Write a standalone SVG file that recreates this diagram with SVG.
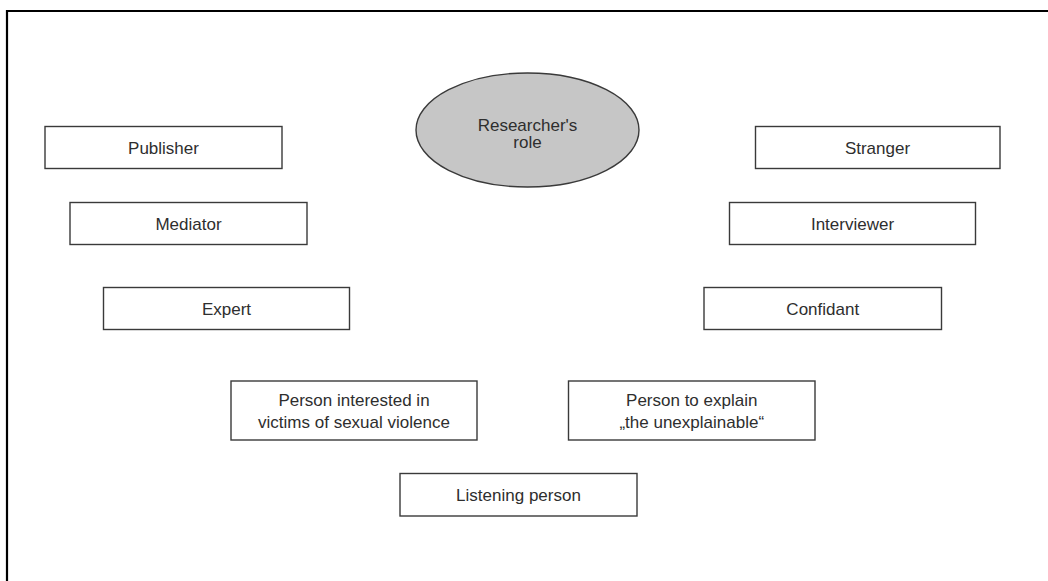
<svg xmlns="http://www.w3.org/2000/svg" width="1048" height="581" viewBox="0 0 1048 581">
<style>
.box{fill:#fff;stroke:#3a3a3a;stroke-width:1.4}
.ell{fill:#c6c6c6;stroke:#3a3a3a;stroke-width:1.4}
text{font-family:"Liberation Sans",Arial,sans-serif;font-size:17px;fill:#2e2e2e;text-anchor:middle}
</style>
<rect width="1048" height="581" fill="#fff"/>
<path d="M7,581 V11 H1048" fill="none" stroke="#000" stroke-width="2.2"/>
<g id="connectors"></g>
<g id="researchers-role">
<ellipse class="ell" cx="527.5" cy="130" rx="111.5" ry="57"/>
<text x="527.5" y="131">Researcher's</text>
<text x="527.5" y="148">role</text>
</g>
<g id="publisher"><rect class="box" x="45" y="126.5" width="237" height="42"/><text x="163.5" y="154">Publisher</text></g>
<g id="mediator"><rect class="box" x="70" y="202.5" width="237" height="42"/><text x="188.5" y="230">Mediator</text></g>
<g id="expert"><rect class="box" x="103.5" y="287.5" width="246" height="42"/><text x="226.5" y="315">Expert</text></g>
<g id="stranger"><rect class="box" x="755.5" y="126.5" width="244.5" height="42"/><text x="877.5" y="154">Stranger</text></g>
<g id="interviewer"><rect class="box" x="729.5" y="202.5" width="246" height="42"/><text x="852.5" y="230">Interviewer</text></g>
<g id="confidant"><rect class="box" x="704" y="287.5" width="237.5" height="42"/><text x="822.75" y="315">Confidant</text></g>
<g id="person-interested"><rect class="box" x="231" y="381" width="246" height="59"/><text x="354" y="406">Person interested in</text><text x="354" y="428">victims of sexual violence</text></g>
<g id="person-to-explain"><rect class="box" x="568.5" y="381" width="246.5" height="59"/><text x="691.75" y="406">Person to explain</text><text x="691.75" y="428">„the unexplainable“</text></g>
<g id="listening-person"><rect class="box" x="400" y="473.5" width="237" height="42.5"/><text x="518.5" y="501">Listening person</text></g>
</svg>
